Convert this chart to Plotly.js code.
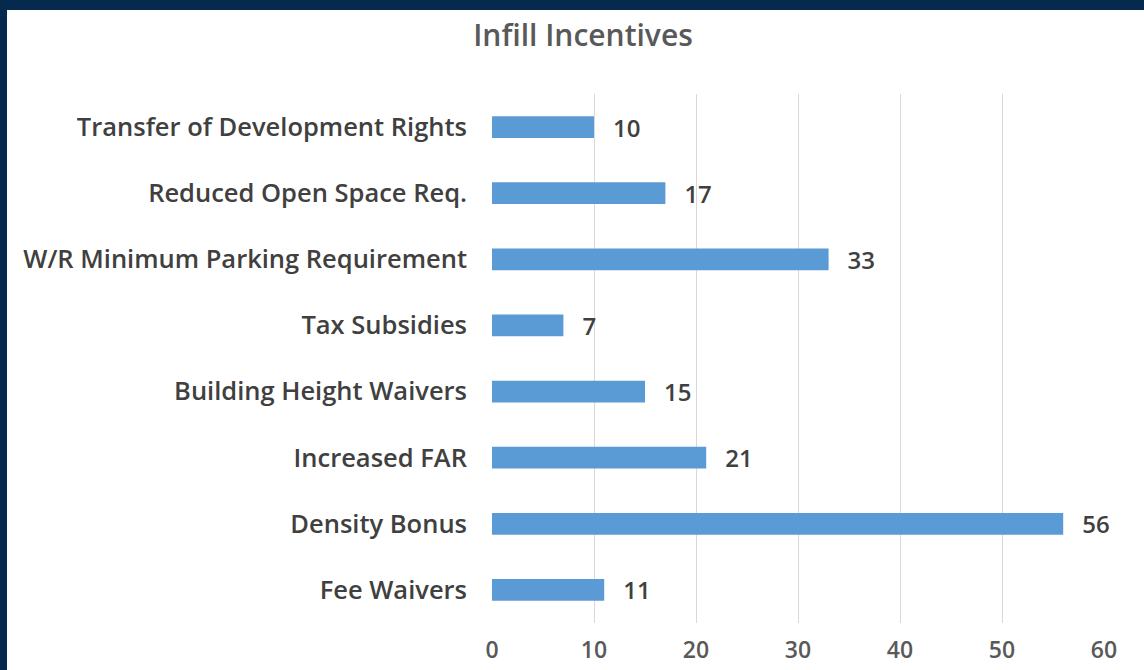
<!DOCTYPE html>
<html>
<head>
<meta charset="utf-8">
<script src="https://cdn.plot.ly/plotly-3.0.1.min.js"></script>
<style>
html,body{margin:0;padding:0;background:#062a4d;width:1144px;height:670px;overflow:hidden;}
#chart{position:absolute;left:7px;top:10px;width:1137px;height:660px;background:#fff;}
</style>
</head>
<body>
<div id="chart"></div>
<script>
const categories = ["Transfer of Development Rights","Reduced Open Space Req.","W/R Minimum Parking Requirement","Tax Subsidies","Building Height Waivers","Increased FAR","Density Bonus","Fee Waivers"];
const values = [10,17,33,7,15,21,56,11];
const tickValues = [0,10,20,30,40,50,60];

const fontFam = "'Open Sans', sans-serif";
Plotly.newPlot('chart',[{
  type:'bar', orientation:'h',
  x: values, y: categories,
  marker:{color:'#5b9bd5', line:{color:'#5b9bd5', width:0}},
  text: values, texttemplate:'\u2002\u2009%{x}', textposition:'outside', constraintext:'none',
  textfont:{family:fontFam, size:24, color:'#404040', weight:600},
  cliponaxis:false, hoverinfo:'none'
}],{
  width:1137, height:660,
  paper_bgcolor:'#fff', plot_bgcolor:'#fff',
  margin:{l:485, r:40, t:84, b:47},
  bargap:0.67,
  showlegend:false,
  title:{text:'Infill Incentives', x:0.5066, xref:'container', xanchor:'center', y:0.962, yref:'container', yanchor:'middle',
    font:{family:fontFam, size:30, color:'#595959', weight:600}},
  xaxis:{range:[0,60], tickvals:tickValues, showgrid:true, gridcolor:'#d9d9d9', gridwidth:1, zeroline:false, showline:false,
    ticks:'', ticklabelstandoff:11, tickfont:{family:fontFam, size:23, color:'#595959', weight:600}, fixedrange:true},
  yaxis:{type:'category', autorange:'reversed', showgrid:false, zeroline:false, showline:false, ticks:'',
    ticklabelstandoff:24, tickfont:{family:fontFam, size:25.5, color:'#404040', weight:600}, fixedrange:true}
},{displayModeBar:false, staticPlot:true});
</script>
</body>
</html>
